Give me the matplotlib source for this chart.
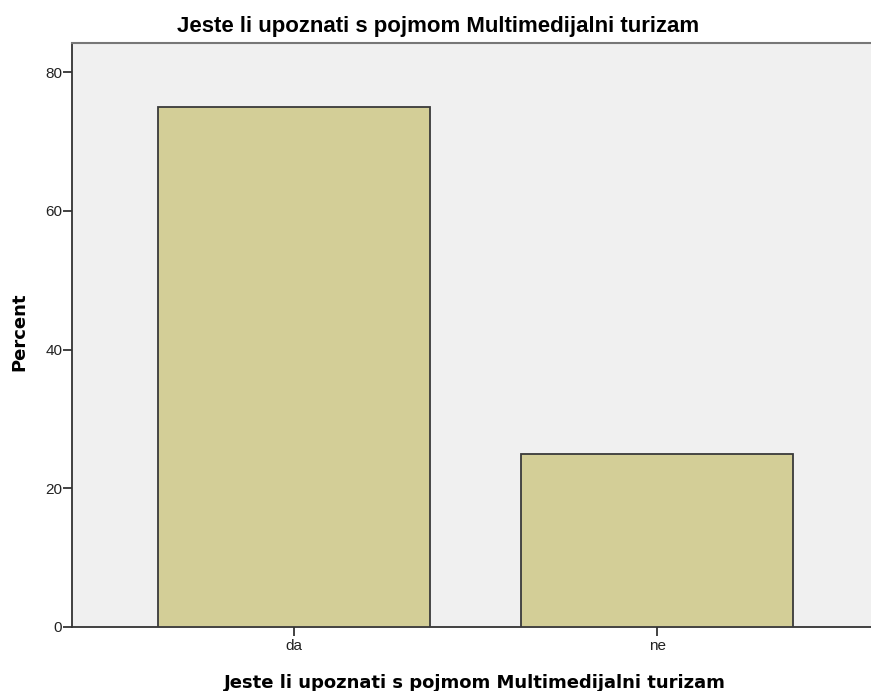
import matplotlib.pyplot as plt

categories = ['da', 'ne']
percent = [75.0, 25.0]
y_ticks = [0, 20, 40, 60, 80]

title = 'Jeste li upoznati s pojmom Multimedijalni turizam'

plt.rcParams['font.family'] = ['Liberation Sans', 'DejaVu Sans']

fig = plt.figure(figsize=(8.71, 6.91), dpi=100)
ax = fig.add_axes([72 / 871, 64 / 691, 807 / 871, 584 / 691])
ax.set_facecolor('#f0f0f0')

x = range(len(categories))
ax.bar(x, percent, width=0.75, color='#d3ce97', edgecolor='#3a3a3a', linewidth=1.3, zorder=3)

ax.set_xlim(-0.611, 1.611)
ax.set_ylim(0, 84.2)
ax.set_xticks(list(x))
ax.set_xticklabels(categories)
ax.set_yticks(y_ticks)

ax.tick_params(axis='both', labelsize=11, labelcolor='#222222', color='#222222',
               width=1.2, length=6.5, direction='out')
ax.tick_params(axis='y', pad=0.5)
ax.tick_params(axis='x', pad=2)

for side in ('left', 'bottom'):
    ax.spines[side].set_color('#333333')
    ax.spines[side].set_linewidth(1.3)
ax.spines['top'].set_color('#777777')
ax.spines['top'].set_linewidth(1.5)
ax.spines['right'].set_visible(False)

# labels placed in figure pixels, like the SPSS output
fig.text(438 / 871, 1 - 32 / 691, title, ha='center', va='baseline',
         fontsize=16, fontweight='bold')
fig.text(475 / 871, 1 - 688 / 691, title, ha='center', va='baseline',
         fontsize=13, fontweight='bold', family='DejaVu Sans')
fig.text(19 / 871, 1 - 332 / 691, 'Percent', ha='center', va='center', rotation=90,
         fontsize=13, fontweight='bold', family='DejaVu Sans')

fig.savefig('out.png', dpi=100)
